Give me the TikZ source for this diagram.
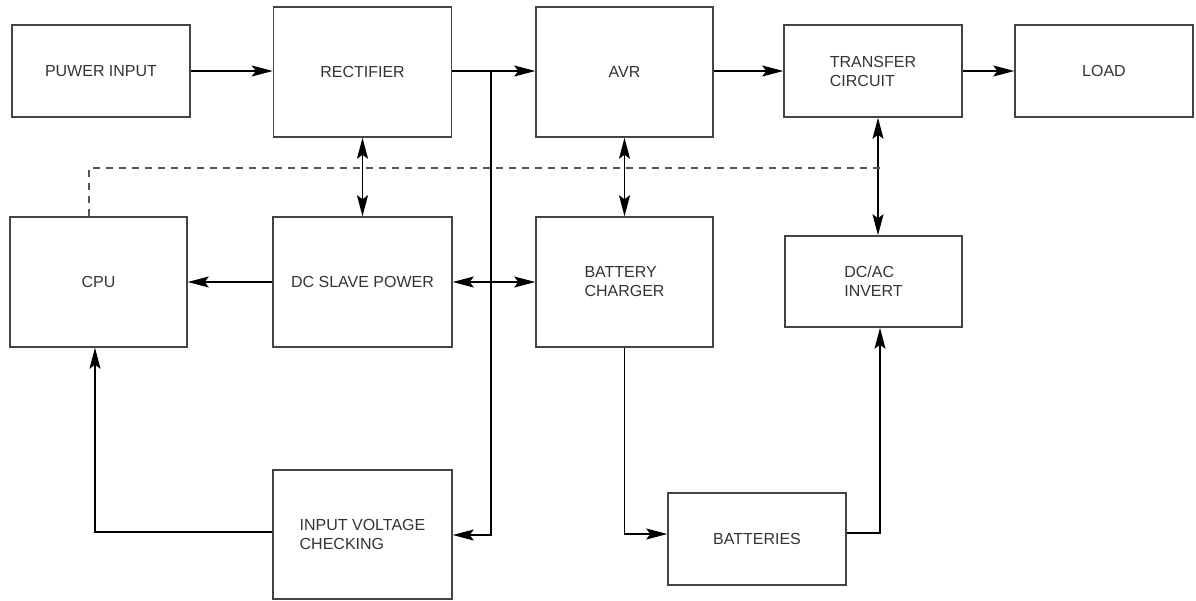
\documentclass[tikz,border=0pt]{standalone}
\usepackage{fontspec}
\setmainfont{Liberation Sans}
\usetikzlibrary{arrows.meta}
\definecolor{boxc}{HTML}{444444}
\definecolor{txtc}{HTML}{333333}
\definecolor{dashc}{HTML}{555555}
\begin{document}
\begin{tikzpicture}[x=1pt,y=-1pt,
  blk/.style={draw=boxc,line width=1.5pt,rectangle,inner sep=0pt,text=txtc,align=left,
    font=\fontsize{16}{19}\selectfont},
  tip/.style={},
  conn/.style={line width=1.5pt,black,-{Stealth[length=21pt,width=11pt,inset=4pt]}},
  bconn/.style={line width=1.5pt,black,{Stealth[length=21pt,width=11pt,inset=4pt]}-{Stealth[length=21pt,width=11pt,inset=4pt]}},
  dashline/.style={line width=1.4pt,dashc,dash pattern=on 7pt off 6pt}]
\useasboundingbox (0,0) rectangle (1196,600);
\node[blk,minimum width=178pt,minimum height=92pt] (pin) at (101,71) {PUWER INPUT};
\node[blk,minimum width=178pt,minimum height=130pt] (rect) at (362.5,72) {RECTIFIER};
\node[blk,minimum width=177pt,minimum height=130pt] (avr) at (624.5,72) {AVR};
\node[blk,minimum width=178pt,minimum height=92pt] (tc) at (873,71) {TRANSFER\\CIRCUIT};
\node[blk,minimum width=178pt,minimum height=92pt] (load) at (1104,71) {LOAD};
\node[blk,minimum width=177pt,minimum height=130pt] (cpu) at (98.5,282) {CPU};
\node[blk,minimum width=179pt,minimum height=130pt] (dcs) at (362.5,282) {DC SLAVE POWER};
\node[blk,minimum width=177pt,minimum height=130pt] (bc) at (624.5,282) {BATTERY\\CHARGER};
\node[blk,minimum width=177pt,minimum height=91pt] (dcac) at (873.5,281.5) {DC/AC\\INVERT};
\node[blk,minimum width=179pt,minimum height=129pt] (ivc) at (362.5,534.5) {INPUT VOLTAGE\\CHECKING};
\node[blk,minimum width=178pt,minimum height=92pt] (bat) at (757,539) {BATTERIES};
\coordinate (j1) at (491,71);
\coordinate (d1) at (883,168);
% top row
\draw[conn] (pin.east) -- (pin.east -| rect.west);
\draw[conn] (rect.east |- j1) -- (j1 -| avr.west);
\draw[conn] (avr.east |- j1) -- (j1 -| tc.west);
\draw[conn] (tc.east) -- (load.west);
% vertical links
\draw[bconn] (rect.south) -- (dcs.north);
\draw[bconn] (avr.south) -- (bc.north);
\draw[bconn] ([xshift=5pt]tc.south) -- ([xshift=5pt]tc.south |- dcac.north);
% middle row
\draw[conn] (dcs.west) -- (cpu.east);
\draw[bconn] (dcs.east) -- (bc.west);
% junction line to input voltage checking
\draw[conn] (j1) |- ([yshift=-0.5pt]ivc.east);
% input voltage checking to CPU
\draw[conn] ([yshift=2.5pt]ivc.west) -| ([xshift=-3.5pt]cpu.south);
% battery path
\draw[conn] (bc.south) |- ([yshift=5pt]bat.west);
\draw[conn] ([yshift=6pt]bat.east) -| ([xshift=6.5pt]dcac.south);
% dashed control line
\draw[dashline] ([xshift=-9.5pt]cpu.north) |- (d1);
\end{tikzpicture}
\end{document}
